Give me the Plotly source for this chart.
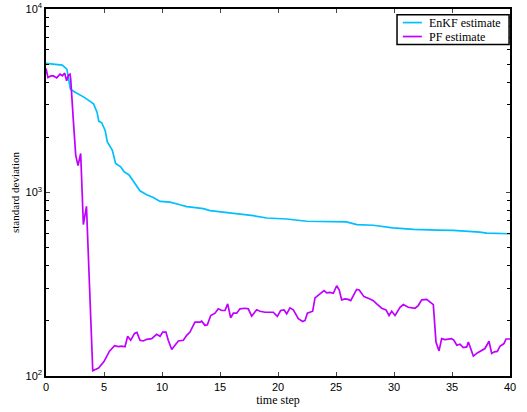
import plotly.graph_objects as go

# EnKF estimate (time, std dev)
enkf_t = [0, 1.0, 1.4, 1.8, 2.1, 2.4, 3.3, 4.1, 4.4, 4.55, 4.8, 5.1, 5.28, 5.72, 6.0, 6.44, 6.72,
          7.16, 7.53, 7.67, 8.1, 8.68, 9.25, 9.83, 10.69, 11.55, 12.13, 12.7, 13.56, 14.14, 14.7,
          15.0, 16.44, 17.87, 19.03, 20.75, 22.47, 24.2, 25.9, 26.8, 28.2, 29.9, 31.7, 33.7, 35.1,
          37.4, 38.0, 40.0]
enkf_v = [5050, 5000, 4950, 4700, 3660, 3550, 3300, 3040, 2740, 2450, 2400, 2180, 1890, 1700, 1440,
          1380, 1300, 1246, 1147, 1123, 1021, 972, 940, 894, 886, 858, 837, 830, 816, 796, 789,
          783, 767, 748, 726, 717, 697, 691, 691, 668, 663, 641, 629, 623, 621, 608, 600, 596]

# PF estimate (time, std dev)
pf_t = [0, 0.17, 0.43, 0.65, 0.92, 1.21, 1.41, 1.61, 1.78, 1.94, 2.07, 2.13, 2.35, 2.56, 2.76, 2.99,
        3.22, 3.49, 4.03, 4.53, 5.0, 5.47, 5.91, 6.23, 6.53, 6.81, 7.04, 7.3, 7.63, 7.84, 8.1, 8.39,
        8.68, 9.11, 9.54, 9.83, 10.06, 10.34, 10.54, 10.84, 11.12, 11.41, 11.84, 12.13, 12.41,
        12.84, 13.28, 13.42, 13.71, 13.91, 14.2, 14.57, 14.85, 15.15, 15.43, 15.66, 15.92, 16.15,
        16.44, 16.72, 17.16, 17.44, 17.73, 18.16, 18.45, 18.88, 19.59, 19.94, 20.23, 20.52, 20.75,
        21.03, 21.32, 21.75, 22.13, 22.33, 22.53, 22.99, 23.19, 23.62, 23.97, 24.2, 24.48, 24.77,
        25.06, 25.28, 25.49, 25.78, 26.06, 26.27, 26.78, 27.0, 27.41, 27.93, 28.22, 28.51, 28.94,
        29.31, 29.57, 29.8, 30.09, 30.52, 30.8, 31.23, 31.81, 32.09, 32.39, 32.82, 33.1, 33.39,
        33.62, 33.88, 34.11, 34.4, 34.97, 35.17, 35.41, 35.69, 35.97, 36.27, 36.41, 36.84, 37.18,
        37.56, 37.84, 38.19, 38.42, 38.65, 38.91, 39.14, 39.48, 39.66, 40.0]
pf_v = [4740, 4236, 4316, 4316, 4210, 4415, 4327, 4470, 4067, 4360, 4415, 4148, 2512, 1599, 1400, 1631,
        669, 840, 106.8, 110.5, 119.8, 136.5, 146.2, 144.7, 145.3, 144.4, 164.5, 156.5, 170.8, 172.9,
        156.5, 155.2, 158.5, 159.9, 168.7, 164.5, 173.6, 173.6, 156.5, 139.4, 147.1, 155.2, 156.5,
        166.6, 173.6, 196.6, 196.6, 199.0, 188.7, 190.3, 213.7, 219.9, 232.3, 227.5, 227.5, 247.2,
        207.7, 219.9, 219.9, 232.3, 234.0, 232.3, 211.8, 229.4, 225.4, 222.6, 222.6, 211.1, 227.5,
        229.4, 218.2, 235.1, 229.4, 205.1, 198.3, 200.8, 219.9, 225.4, 266.3, 279.9, 291.7, 283.5,
        285.6, 282.1, 310.4, 294.2, 259.8, 263.0, 261.5, 257.5, 296.4, 294.2, 270.6, 263.0, 257.5,
        247.2, 234.0, 229.4, 213.7, 225.4, 213.7, 236.9, 245.0, 236.9, 234.0, 242.0, 259.8, 261.5,
        252.1, 245.0, 153.2, 137.0, 159.9, 157.9, 159.9, 156.5, 147.1, 148.9, 142.9, 144.0, 153.2,
        128.3, 133.6, 138.2, 141.2, 154.6, 132.7, 135.5, 136.1, 145.3, 150.2, 159.1, 159.1]

series_names = ["EnKF estimate", "PF estimate"]
series_colors = ["#00BFFF", "#BF00FF"]

x_ticks = [0, 5, 10, 15, 20, 25, 30, 35, 40]
y_ticks = [100, 1000, 10000]
y_ticktext = ["10<sup>2</sup>", "10<sup>3</sup>", "10<sup>4</sup>"]
y_minor = [m * d for d in (100, 1000) for m in range(2, 10)]

fig = go.Figure()
for (xs, ys), name, color in zip([(enkf_t, enkf_v), (pf_t, pf_v)], series_names, series_colors):
    fig.add_trace(go.Scatter(x=xs, y=ys, mode="lines", name=name,
                             line=dict(color=color, width=1.7), showlegend=False))

# compact boxed legend (as in the original figure)
leg_x0, leg_x1, leg_y0, leg_y1 = 0.7565, 0.998, 0.903, 0.984
fig.add_shape(type="rect", xref="paper", yref="paper", x0=leg_x0, x1=leg_x1, y0=leg_y0, y1=leg_y1,
              line=dict(color="black", width=1.5), fillcolor="white", layer="above")
for i, (name, color) in enumerate(zip(series_names, series_colors)):
    yy = 0.963 - i * 0.038
    fig.add_shape(type="line", xref="paper", yref="paper", x0=0.769, x1=0.810, y0=yy, y1=yy,
                  line=dict(color=color, width=1.7), layer="above")
    fig.add_annotation(xref="paper", yref="paper", x=0.822, y=yy, text=name, showarrow=False,
                       xanchor="left", yanchor="middle",
                       font=dict(family="Liberation Serif", size=12, color="black"))

fig.update_layout(
    width=527, height=412,
    margin=dict(l=46, r=17, t=9, b=36),
    paper_bgcolor="white", plot_bgcolor="white",
    showlegend=False,
    font=dict(family="Liberation Sans", size=11, color="black"),
)
fig.update_xaxes(
    range=[0, 40], tickvals=x_ticks, ticks="inside", ticklen=4, tickwidth=1,
    showline=True, linecolor="black", linewidth=1.5, mirror="ticks",
    showgrid=False, zeroline=False, automargin=False, ticklabeloverflow="allow",
    title=dict(text="time step", font=dict(family="Liberation Serif", size=12), standoff=2),
    tickfont=dict(family="Liberation Sans", size=11),
)
fig.update_yaxes(
    type="log", range=[2, 4], tickvals=y_ticks, ticktext=y_ticktext,
    ticks="inside", ticklen=4, tickwidth=1,
    minor=dict(tickvals=y_minor, ticks="inside", ticklen=3, tickwidth=1, tickcolor="black"),
    showline=True, linecolor="black", linewidth=1.5, mirror="ticks",
    showgrid=False, zeroline=False, automargin=False, ticklabeloverflow="allow",
    title=dict(text="standard deviation", font=dict(family="Liberation Serif", size=11), standoff=4),
    tickfont=dict(family="Liberation Sans", size=11),
)

fig.write_html("out.html")
